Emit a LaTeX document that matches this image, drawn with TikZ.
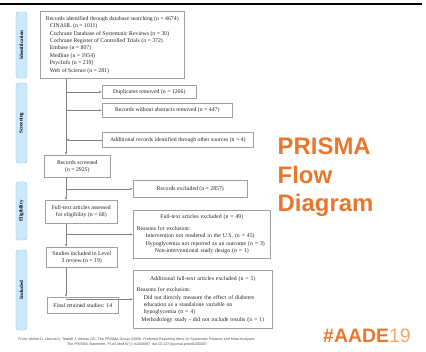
\documentclass[tikz,border=0pt]{standalone}
\usepackage{fontspec}
\setmainfont{Liberation Serif}
\newfontfamily\arialfont{Liberation Sans}
\usepackage{xcolor}
\usetikzlibrary{positioning,arrows.meta}

\definecolor{boxgray}{RGB}{160,160,160}
\definecolor{linegray}{RGB}{130,130,130}
\definecolor{stagefill}{RGB}{205,232,250}
\definecolor{stageline}{RGB}{140,195,230}
\definecolor{aadeorange}{RGB}{232,119,46}
\definecolor{aadelight}{RGB}{245,165,105}

\begin{document}
\begin{tikzpicture}[
    x=1bp, y=-1bp,
    box/.style={draw=boxgray, line width=0.6bp, fill=white, inner sep=2bp,
                align=center, anchor=north west, text=black!85,
                font=\fontsize{5.8}{7.4}\selectfont},
    note/.style={box, inner sep=3.5bp},
    stage/.style={draw=stageline, fill=stagefill, rounded corners=2.5bp,
                  rotate=90, minimum height=11bp, inner sep=1bp,
                  font=\bfseries\fontsize{5}{6}\selectfont},
    arr/.style={-{Latex[length=2.6bp,width=2.2bp]}, draw=linegray, line width=0.6bp},
  ]
  \useasboundingbox (0,0) rectangle (426,352);
  \draw[line width=2.5bp] (0,4) -- (422,4);

  % Stage labels on the left
  \node[stage, minimum width=66bp] (ident) at (21.5,45) {Identification};
  \node[stage, minimum width=80bp] (screen) at (21.5,123) {Screening};
  \node[stage, minimum width=58bp] (elig) at (21.5,211) {Eligibility};
  \node[stage, minimum width=80bp] (incl) at (21.5,290) {Included};

  % Main column
  \coordinate (spine) at (66,0);
  \node[box, align=left, minimum width=144bp, minimum height=67bp] (dbsearch) at (40,11)
    {Records identified through database searching (n = 4674)\\
     \hspace{4bp}CINAHL (n = 1011)\\
     \hspace{4bp}Cochrane Database of Systematic Reviews (n = 30)\\
     \hspace{4bp}Cochrane Register of Controlled Trials (n = 372)\\
     \hspace{4bp}Embase (n = 807)\\
     \hspace{4bp}Medline (n = 1954)\\
     \hspace{4bp}PsycInfo (n = 219)\\
     \hspace{4bp}Web of Science (n = 281)};
  \node[box, minimum width=66bp, minimum height=22bp] (screened) at (44,155)
    {Records screened\\(n = 2925)};
  \node[box, minimum width=72bp, minimum height=23bp] (assessed) at (45,200)
    {Full-text articles assessed\\for eligibility (n = 68)};
  \node[box, minimum width=71bp, minimum height=20bp] (studies) at (46,247)
    {Studies included in Level\\3 review (n = 19)};
  \node[box, minimum width=71bp, minimum height=16bp] (final) at (47,297)
    {Final retained studies: 14};

  % Side boxes
  \node[box, minimum width=94bp, minimum height=13bp] (dupl) at (102,85)
    {Duplicates removed (n = 1266)};
  \node[box, minimum width=130bp, minimum height=14bp] (noabs) at (102,103)
    {Records without abstracts removed (n = 447)};
  \node[box, minimum width=151bp, minimum height=15bp] (other) at (102,132)
    {Additional records identified through other sources (n = 4)};
  \node[box, minimum width=114bp, minimum height=17bp] (recexcl) at (133,180)
    {Records excluded (n = 2857)};
  \node[note, text width=130bp, minimum height=48bp] (ftexcl) at (133,210)
    {{\centering Full-text articles excluded (n = 49)\par}\vspace{4bp}
     \raggedright Reasons for exclusion:\par
     \leftskip=9bp Intervention not rendered in the U.S. (n = 45)\par
     Hypoglycemia not reported as an outcome (n = 3)\par
     Non-interventional study design (n = 1)};
  \node[note, text width=132bp, minimum height=58bp] (addexcl) at (133,270)
    {{\centering Additional full-text articles excluded (n = 5)\par}\vspace{4bp}
     \raggedright Reasons for exclusion:\par
     \leftskip=7bp Did not directly measure the effect of diabetes\par
     education as a standalone variable on\par
     hypoglycemia (n = 4)\par
     Methodology study - did not include results (n = 1)};

  % Arrows: main column
  \draw[arr] (dbsearch.south -| spine) -- (screened.north -| spine);
  \draw[arr] (screened.south -| spine) -- (assessed.north -| spine);
  \draw[arr] (assessed.south -| spine) -- (studies.north -| spine);
  \draw[arr] (studies.south -| spine) -- (final.north -| spine);

  % Arrows: side boxes
  \draw[arr] (dupl.west -| spine) -- (dupl.west);
  \draw[arr] (noabs.west -| spine) -- (noabs.west);
  \draw[arr] (other.west) -- (other.west -| spine);
  \draw[arr] (recexcl.west -| spine) -- (recexcl.west);
  \draw[arr] (ftexcl.west -| spine) -- (ftexcl.west);
  \draw[arr] (addexcl.west -| spine) -- (addexcl.west);

  % Title and logo
  \node[anchor=north west, inner sep=0, align=left, text=aadeorange,
        font=\arialfont\bfseries\fontsize{24}{28.5}\selectfont] (title) at (277.5,138)
    {PRISMA\\Flow\\Diagram};
  \node[anchor=base west, inner sep=0, text=aadeorange,
        font=\arialfont\bfseries\fontsize{19.5}{20}\selectfont] (logo) at (323,342)
    {\#AADE{\mdseries\color{aadelight}19}};

  % Source
  \node[align=center, inner sep=0, text=black!70,
        font=\arialfont\fontsize{3.6}{4.6}\selectfont] (source) at (137,342)
    {From: Moher D, Liberati A, Tetzlaff J, Altman DG, The PRISMA Group (2009). Preferred Reporting Items for Systematic Reviews and Meta-Analyses:\\
     The PRISMA Statement. PLoS Med 6(7): e1000097. doi:10.1371/journal.pmed1000097};
\end{tikzpicture}
\end{document}
